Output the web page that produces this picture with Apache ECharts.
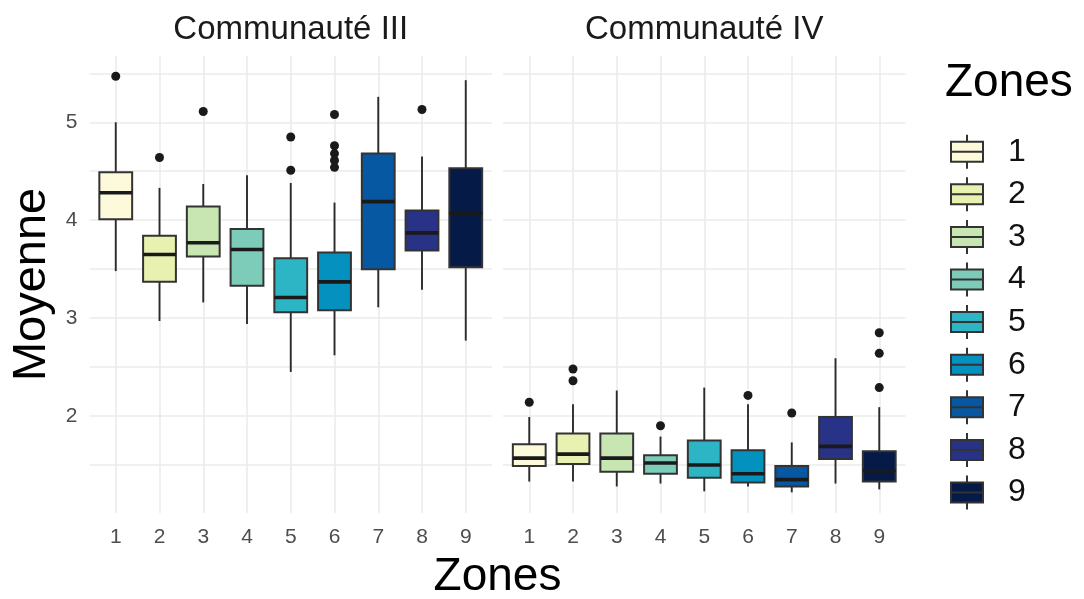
<!DOCTYPE html>
<html><head><meta charset="utf-8">
<script src="https://cdn.jsdelivr.net/npm/echarts@6/dist/echarts.min.js"></script>
<style>html,body{margin:0;padding:0;background:#fff}#c{width:1084px;height:599px}</style>
</head><body><div id="c"></div>
<script>
// ---------- data ----------
const zones = ['1', '2', '3', '4', '5', '6', '7', '8', '9'];
const panelTitles = ['Communauté III', 'Communauté IV'];
const yTickValues = [2, 3, 4, 5];

// Communauté III
const comm3Low    = [3.48, 2.97, 3.16, 2.94, 2.45, 2.62, 3.11, 3.29, 2.77];
const comm3Q1     = [4.01, 3.37, 3.63, 3.33, 3.06, 3.08, 3.50, 3.69, 3.52];
const comm3Median = [4.28, 3.65, 3.77, 3.70, 3.21, 3.37, 4.19, 3.87, 4.07];
const comm3Q3     = [4.49, 3.84, 4.14, 3.91, 3.61, 3.67, 4.68, 4.10, 4.53];
const comm3High   = [5.00, 4.33, 4.37, 4.46, 4.38, 4.18, 5.26, 4.65, 5.43];
const comm3Outliers = [[1, 5.47], [2, 4.64], [3, 5.11], [5, 4.85], [5, 4.51],
  [6, 5.08], [6, 4.76], [6, 4.68], [6, 4.61], [6, 4.54], [8, 5.13]];

// Communauté IV
const comm4Low    = [1.33, 1.33, 1.28, 1.31, 1.23, 1.28, 1.22, 1.31, 1.25];
const comm4Q1     = [1.49, 1.51, 1.43, 1.41, 1.37, 1.32, 1.28, 1.56, 1.33];
const comm4Median = [1.57, 1.61, 1.57, 1.52, 1.50, 1.41, 1.35, 1.69, 1.44];
const comm4Q3     = [1.71, 1.82, 1.82, 1.60, 1.75, 1.65, 1.49, 1.99, 1.64];
const comm4High   = [1.99, 2.12, 2.26, 1.79, 2.29, 2.12, 1.73, 2.59, 2.09];
const comm4Outliers = [[1, 2.14], [2, 2.48], [2, 2.36], [4, 1.90], [6, 2.21],
  [7, 2.03], [9, 2.85], [9, 2.64], [9, 2.29]];

// ---------- style ----------
const FONT = '"Liberation Sans", Arial, Helvetica, sans-serif';
const palette = ['#FDFADC', '#E9F1B1', '#C7E6B2', '#7CCCB9', '#2DB4C5', '#0591C0', '#0758A2', '#283286', '#051A47'];
const GRID_COLOR = '#EBEBEB';
const panelLeft = [89.5, 503];
const PANEL_W = 402.5, PANEL_TOP = 55.9, PANEL_H = 457.1;
const Y_MIN = 1.009, Y_MAX = 5.678;

const panels = [
  { low: comm3Low, q1: comm3Q1, med: comm3Median, q3: comm3Q3, high: comm3High, out: comm3Outliers },
  { low: comm4Low, q1: comm4Q1, med: comm4Median, q3: comm4Q3, high: comm4High, out: comm4Outliers }
];

function isInt(v) { return Math.abs(v - Math.round(v)) < 1e-6; }

function renderBox(params, api) {
  const x = api.value(0);
  const lo = api.coord([x, api.value(1)]);
  const q1 = api.coord([x, api.value(2)]);
  const md = api.coord([x, api.value(3)]);
  const q3 = api.coord([x, api.value(4)]);
  const hi = api.coord([x, api.value(5)]);
  const w = api.size([0.75, 0])[0];
  const cx = lo[0];
  const fill = api.visual('color');
  return {
    type: 'group', children: [
      { type: 'line', shape: { x1: cx, y1: hi[1], x2: cx, y2: q3[1] }, style: { stroke: '#2B2B2B', lineWidth: 1.9 } },
      { type: 'line', shape: { x1: cx, y1: q1[1], x2: cx, y2: lo[1] }, style: { stroke: '#2B2B2B', lineWidth: 1.9 } },
      { type: 'rect', shape: { x: cx - w / 2, y: q3[1], width: w, height: q1[1] - q3[1] }, style: { fill: fill, stroke: '#333333', lineWidth: 2 } },
      { type: 'line', shape: { x1: cx - w / 2, y1: md[1], x2: cx + w / 2, y2: md[1] }, style: { stroke: '#1A1A1A', lineWidth: 3.6 } }
    ]
  };
}

const grids = [], xAxes = [], yAxes = [], series = [];
panels.forEach((p, pi) => {
  grids.push({ left: panelLeft[pi], top: PANEL_TOP, width: PANEL_W, height: PANEL_H, containLabel: false });
  xAxes.push({
    type: 'value', gridIndex: pi, min: 0.4, max: 9.6, splitNumber: 9, minInterval: 1, maxInterval: 1,
    axisLine: { show: false }, axisTick: { show: false },
    axisLabel: {
      show: true, margin: 14, color: '#4D4D4D', fontSize: 21, fontFamily: FONT,
      formatter: v => isInt(v) && v >= 1 && v <= 9 ? zones[Math.round(v) - 1] : ''
    },
    splitLine: { show: true, showMinLine: false, showMaxLine: false, lineStyle: { color: GRID_COLOR, width: 1.6 } }
  });
  yAxes.push({
    type: 'value', gridIndex: pi, min: Y_MIN, max: Y_MAX, splitNumber: 9, minInterval: 0.5, maxInterval: 0.5,
    axisLine: { show: false }, axisTick: { show: false },
    axisLabel: {
      show: pi === 0, margin: 12, color: '#4D4D4D', fontSize: 21, fontFamily: FONT,
      formatter: v => (yTickValues.some(t => Math.abs(t - v) < 1e-6) ? String(Math.round(v)) : '')
    },
    splitLine: { show: true, showMinLine: false, showMaxLine: false, lineStyle: { color: GRID_COLOR, width: 1.6 } }
  });
  zones.forEach((z, zi) => {
    series.push({
      type: 'custom', name: z, xAxisIndex: pi, yAxisIndex: pi,
      itemStyle: { color: palette[zi] },
      encode: { x: 0, y: [1, 2, 3, 4, 5] },
      renderItem: renderBox,
      data: [[zi + 1, p.low[zi], p.q1[zi], p.med[zi], p.q3[zi], p.high[zi]]],
      clip: false, silent: true
    });
  });
  series.push({
    type: 'scatter', name: 'outliers', xAxisIndex: pi, yAxisIndex: pi,
    symbol: 'circle', symbolSize: 9, itemStyle: { color: '#1A1A1A', opacity: 1 },
    data: p.out, silent: true, z: 5
  });
});

const legendIcon = 'path://M16,0 L16,7 M0,7 L32,7 L32,27 L0,27 Z M0,17 L32,17 M16,27 L16,34';

const option = {
  animation: false,
  backgroundColor: '#ffffff',
  grid: grids, xAxis: xAxes, yAxis: yAxes, series: series,
  legend: {
    orient: 'vertical', left: 950, top: 133.7, padding: 0,
    itemWidth: 32, itemHeight: 34, itemGap: 6.6,
    selectedMode: false,
    textStyle: { fontSize: 32, color: '#111111', fontFamily: FONT, padding: [0, 0, 0, 20] },
    itemStyle: { borderColor: '#333333', borderWidth: 2 },
    data: zones.map((z, i) => ({ name: z, icon: legendIcon, itemStyle: { color: palette[i], borderColor: '#333333', borderWidth: 2 } }))
  },
  graphic: [
    { type: 'text', x: panelLeft[0] + PANEL_W / 2, y: 30, style: { text: panelTitles[0], fontSize: 33, fontFamily: FONT, fill: '#1A1A1A', align: 'center', verticalAlign: 'middle' } },
    { type: 'text', x: panelLeft[1] + PANEL_W / 2, y: 30, style: { text: panelTitles[1], fontSize: 33, fontFamily: FONT, fill: '#1A1A1A', align: 'center', verticalAlign: 'middle' } },
    { type: 'text', x: (panelLeft[0] + panelLeft[1] + PANEL_W) / 2, y: 577, style: { text: 'Zones', fontSize: 46, fontFamily: FONT, fill: '#000000', align: 'center', verticalAlign: 'middle' } },
    { type: 'text', x: 32.5, y: PANEL_TOP + PANEL_H / 2, rotation: Math.PI / 2, style: { text: 'Moyenne', fontSize: 47, fontFamily: FONT, fill: '#000000', align: 'center', verticalAlign: 'middle' } },
    { type: 'text', x: 945, y: 83, style: { text: 'Zones', fontSize: 46, fontFamily: FONT, fill: '#000000', align: 'left', verticalAlign: 'middle' } }
  ]
};

const chart = echarts.init(document.getElementById('c'), null, { renderer: 'canvas' });
chart.setOption(option);
</script>
</body></html>
